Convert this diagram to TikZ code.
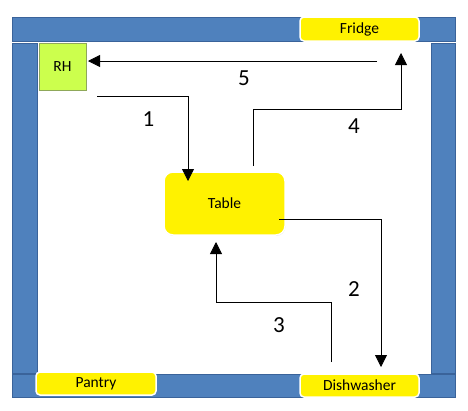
\documentclass[tikz,border=0pt]{standalone}
\usepackage{fontspec}
\setmainfont{Carlito}
\usetikzlibrary{arrows.meta,calc,shadows}
\definecolor{wallblue}{HTML}{4F81BD}
\definecolor{wallline}{HTML}{3A639A}
\definecolor{rhgreen}{HTML}{CCFF4D}
\definecolor{rhline}{HTML}{8FA85A}
\tikzset{
  wall/.style={draw=wallline,fill=wallblue,line width=0.8pt},
  spot/.style={draw=white,fill=yellow,line width=1.5pt,rounded corners=4pt,outer sep=0pt,
    drop shadow={shadow xshift=0.4pt,shadow yshift=-0.8pt,opacity=0.3},
    font=\fontsize{15.5}{17}\selectfont},
  flow/.style={-{Triangle[length=12pt,width=12pt]},line width=0.8pt},
  num/.style={font=\fontsize{23}{25}\selectfont}
}
\begin{document}
\begin{tikzpicture}[x=1pt,y=-1pt]
\useasboundingbox (0,0) rectangle (468,410);
% walls
\draw[wall] (12,17) rectangle (455,41);
\draw[wall] (12,43) rectangle (37,373);
\draw[wall] (431,43) rectangle (455,373);
\draw[wall] (12,374) rectangle (455,397);
% places
\node[spot,minimum width=119pt,minimum height=24pt] (fridge) at (359.5,29) {Fridge};
\node[spot,minimum width=120pt,minimum height=23pt] (pantry) at (96,383.5) {Pantry};
\node[spot,minimum width=119pt,minimum height=23pt] (dish) at (359.5,385.5) {Dishwasher};
\node[spot,rounded corners=9pt,minimum width=121pt,minimum height=63pt] (tbl) at (224.5,203.5) {Table};
\node[draw=rhline,fill=rhgreen,line width=0.8pt,outer sep=0pt,minimum size=47pt,
  font=\fontsize{15.5}{17}\selectfont] (rh) at (62.5,66.5) {RH};
% arrow ends
\coordinate (s1) at ($(rh.south east)+(11,6)$);
\coordinate (t1) at ($(tbl.north west)+(24,9)$);
\coordinate (s2) at ($(tbl.east)+(-6,15.5)$);
\coordinate (t2) at ($(dish.north)+(21.5,-7)$);
\coordinate (s3) at ($(dish.north)+(-28.5,-12)$);
\coordinate (t3) at ($(tbl.south)+(-8.5,7)$);
\coordinate (s4) at ($(tbl.north)+(28.5,-6)$);
\coordinate (t4) at ($(fridge.south)+(41.5,12)$);
\coordinate (s5) at ($(fridge.south)+(17.5,20)$);
\coordinate (t5) at ($(rh.north east)+(2,18)$);
\draw[flow] (s1) -| (t1);
\draw[flow] (s2) -| (t2);
\draw[flow] (s3) -- ++(0,-60) -| (t3);
\draw[flow] (s4) -- ++(0,-57) -| (t4);
\draw[flow] (s5) -- (t5);
\node[num] (n1) at (148.5,119) {1};
\node[num] (n2) at (354,289) {2};
\node[num] (n3) at (279,325) {3};
\node[num] (n4) at (354,126) {4};
\node[num] (n5) at (244,78) {5};
\end{tikzpicture}
\end{document}
